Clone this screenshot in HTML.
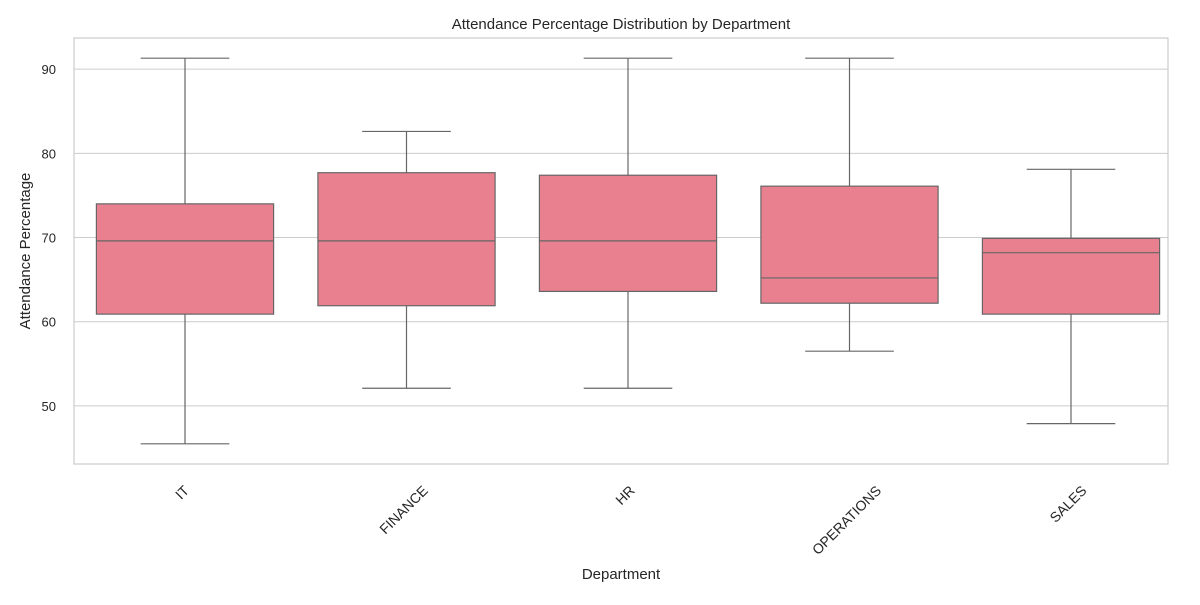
<!DOCTYPE html>
<html><head><meta charset="utf-8"><style>
body{margin:0;background:#fff;font-family:"Liberation Sans",Arial,sans-serif}
</style></head><body>
<svg id="chart" width="1200" height="600" xmlns="http://www.w3.org/2000/svg" font-family="Liberation Sans, Arial, sans-serif"></svg>
<script>
const categories=["IT","FINANCE","HR","OPERATIONS","SALES"];
const whiskerHigh=[91.3,82.6,91.3,91.3,78.1];
const q3=[74.0,77.7,77.4,76.1,69.9];
const median=[69.6,69.6,69.6,65.2,68.2];
const q1=[60.9,61.9,63.6,62.2,60.9];
const whiskerLow=[45.5,52.1,52.1,56.5,47.9];
const yTicks=[50,60,70,80,90];

const NS="http://www.w3.org/2000/svg";
const svg=document.getElementById('chart');
const L=74,R=1168,T=38,B=464,yMin=43.1,yMax=93.7;
const y=v=>B-(v-yMin)/(yMax-yMin)*(B-T);
const band=221.5;
const x=i=>185+band*i;
function mk(tag,attrs,parent){const e=document.createElementNS(NS,tag);for(const k in attrs)e.setAttribute(k,attrs[k]);(parent||svg).appendChild(e);return e;}

yTicks.forEach(t=>{
  const g=mk('line',{x1:L,x2:R,y1:y(t),y2:y(t),stroke:'#cccccc','stroke-width':1});
  
  
  const tx=mk('text',{x:L-18,y:y(t)+5,'text-anchor':'end','font-size':13,fill:'#262626'});
  tx.textContent=t;
  
  
});

categories.forEach((c,i)=>{
  const cx=x(i),hw=band*0.4,cap=band*0.2;
  const g=mk('g',{});
  
  
  const st={stroke:'#666666','stroke-width':1.2};
  mk('line',Object.assign({x1:cx,x2:cx,y1:y(whiskerHigh[i]),y2:y(q3[i])},st),g);
  mk('line',Object.assign({x1:cx,x2:cx,y1:y(q1[i]),y2:y(whiskerLow[i])},st),g);
  mk('line',Object.assign({x1:cx-cap,x2:cx+cap,y1:y(whiskerHigh[i]),y2:y(whiskerHigh[i])},st),g);
  mk('line',Object.assign({x1:cx-cap,x2:cx+cap,y1:y(whiskerLow[i]),y2:y(whiskerLow[i])},st),g);
  mk('rect',Object.assign({x:cx-hw,y:y(q3[i]),width:hw*2,height:y(q1[i])-y(q3[i]),fill:'#e8808f'},st),g);
  mk('line',Object.assign({x1:cx-hw,x2:cx+hw,y1:y(median[i]),y2:y(median[i])},st),g);
  const tx=mk('text',{'text-anchor':'middle','font-size':14,fill:'#262626'});
  tx.textContent=c;
  
  
  const w=tx.getComputedTextLength();
  const cy=B+19+(w*0.707+14*0.707)/2;
  tx.setAttribute('transform',`translate(${cx-3},${cy}) rotate(-45) translate(0,5)`);
});

const fr=mk('rect',{x:L,y:T,width:R-L,height:B-T,fill:'none',stroke:'#cccccc','stroke-width':1.2});



const title=mk('text',{x:(L+R)/2,y:29,'text-anchor':'middle','font-size':15,fill:'#262626'});
title.textContent='Attendance Percentage Distribution by Department';


const xt=mk('text',{x:(L+R)/2,y:579,'text-anchor':'middle','font-size':15,fill:'#262626'});
xt.textContent='Department';


const yt=mk('text',{'text-anchor':'middle','font-size':15,fill:'#262626',transform:`translate(30,${(T+B)/2}) rotate(-90)`});
yt.textContent='Attendance Percentage';


</script>
</body></html>
